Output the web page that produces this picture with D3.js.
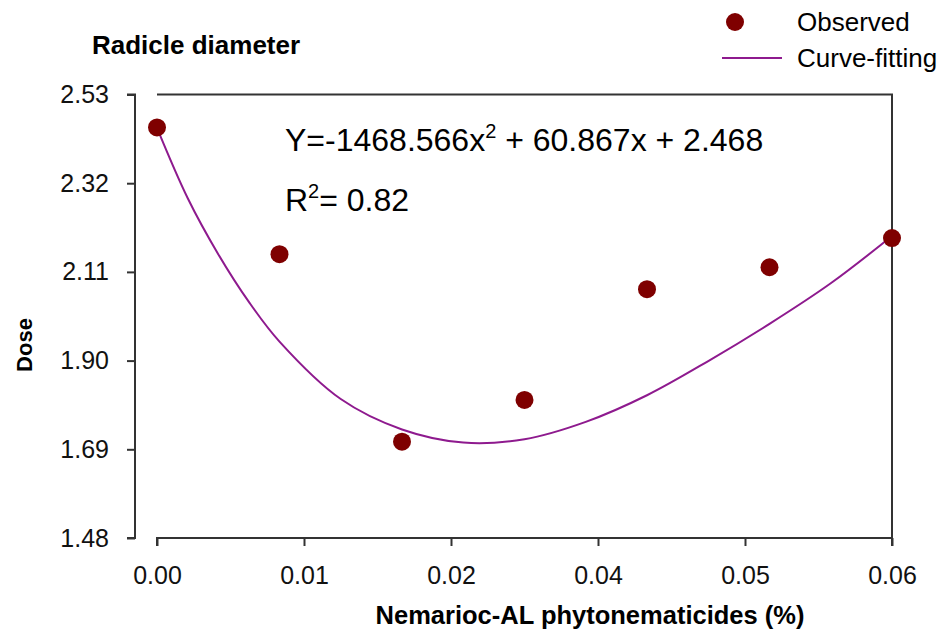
<!DOCTYPE html>
<html>
<head>
<meta charset="utf-8">
<script src="https://cdn.jsdelivr.net/npm/d3@7"></script>
<style>
  body { margin: 0; background: #fff; }
  svg { display: block; font-family: "Liberation Sans", Arial, sans-serif; }
</style>
</head>
<body>
<div id="chart"></div>
<script>
// observed radicle diameter per dose
const doses = [0, 0.01, 0.02, 0.03, 0.04, 0.05, 0.06];
const observed = [2.452, 2.152, 1.708, 1.807, 2.069, 2.121, 2.190];

// fitted curve, sampled along the dose range
const fitX = [0, 0.0025, 0.005, 0.0075, 0.01, 0.015, 0.02, 0.025, 0.03, 0.035, 0.04, 0.045, 0.05, 0.055, 0.06];
const fitY = [2.451, 2.285, 2.152, 2.039, 1.945, 1.809, 1.737, 1.706, 1.714, 1.755, 1.818, 1.899, 1.987, 2.083, 2.195];

const xTicks = [0, 0.012, 0.024, 0.036, 0.048, 0.06];
const xTickLabels = ["0.00", "0.01", "0.02", "0.04", "0.05", "0.06"];
const yTicks = [1.48, 1.69, 1.90, 2.11, 2.32, 2.53];

const width = 944, height = 634;
const plot = { left: 157, right: 892, top: 94.5, bottom: 538 };
const axisColor = "#333";
const dotColor = "#7f0000";
const lineColor = "#8e1a8e";

const svg = d3.select("#chart").append("svg")
  .attr("width", width)
  .attr("height", height);

const x = d3.scaleLinear().domain([0, 0.06]).range([plot.left, plot.right]);
const y = d3.scaleLinear().domain([1.48, 2.53]).range([plot.bottom, plot.top]);

// frame: top and right sides
svg.append("path")
  .attr("d", `M${plot.left},${plot.top}H${plot.right}V${plot.bottom}`)
  .attr("fill", "none")
  .attr("stroke", axisColor)
  .attr("stroke-width", 2);

// y axis, set off to the left
const yAxis = svg.append("g")
  .attr("transform", "translate(135,0)")
  .call(d3.axisLeft(y).tickValues(yTicks).tickFormat(d3.format(".2f")).tickSize(8).tickPadding(18));

// x axis along the bottom
const xAxis = svg.append("g")
  .attr("transform", `translate(0,${plot.bottom})`)
  .call(d3.axisBottom(x).tickValues(xTicks).tickFormat((d, i) => xTickLabels[i]).tickSize(8).tickPadding(20));

[yAxis, xAxis].forEach(g => {
  g.selectAll(".domain").attr("stroke", axisColor).attr("stroke-width", 2);
  g.selectAll(".tick line").attr("stroke", axisColor).attr("stroke-width", 2);
  g.selectAll(".tick text")
    .attr("fill", "#111")
    .style("font-size", "25px")
    .style("font-family", "Liberation Sans, Arial, sans-serif");
});
// square off the axis ends
yAxis.select(".domain").attr("d", `M-8,${y(2.53)}H0V${y(1.48)}H-8`);
xAxis.select(".domain").attr("d", `M${plot.left},8V0H${plot.right}V8`);

// fitted curve
const line = d3.line()
  .x((d, i) => x(fitX[i]))
  .y(d => y(d))
  .curve(d3.curveCatmullRom.alpha(0.5));

svg.append("path")
  .datum(fitY)
  .attr("d", line)
  .attr("fill", "none")
  .attr("stroke", lineColor)
  .attr("stroke-width", 2);

// observed points
svg.selectAll(".obs")
  .data(observed)
  .join("circle")
  .attr("class", "obs")
  .attr("cx", (d, i) => x(doses[i]))
  .attr("cy", d => y(d))
  .attr("r", 9)
  .attr("fill", dotColor);

// equation and fit quality
const eq = svg.append("text")
  .attr("x", 285)
  .attr("y", 151)
  .style("font-size", "32px")
  .attr("fill", "#000");
eq.append("tspan").text("Y=-1468.566x");
eq.append("tspan").attr("dy", -13).style("font-size", "20px").text("2");
eq.append("tspan").attr("dy", 13).text(" + 60.867x + 2.468");

const r2 = svg.append("text")
  .attr("x", 285)
  .attr("y", 211)
  .style("font-size", "32px")
  .attr("fill", "#000");
r2.append("tspan").text("R");
r2.append("tspan").attr("dy", -13).style("font-size", "20px").text("2");
r2.append("tspan").attr("dy", 13).text("= 0.82");

// titles
svg.append("text")
  .attr("x", 92)
  .attr("y", 54)
  .style("font-size", "26px")
  .style("font-weight", "bold")
  .text("Radicle diameter");

svg.append("text")
  .attr("transform", "translate(32,345) rotate(-90)")
  .attr("text-anchor", "middle")
  .style("font-size", "22px")
  .style("font-weight", "bold")
  .text("Dose");

svg.append("text")
  .attr("x", 590)
  .attr("y", 624)
  .attr("text-anchor", "middle")
  .style("font-size", "25.5px")
  .style("font-weight", "bold")
  .text("Nemarioc-AL phytonematicides (%)");

// legend
const legend = svg.append("g");
legend.append("circle")
  .attr("cx", 735)
  .attr("cy", 22)
  .attr("r", 9)
  .attr("fill", dotColor);
legend.append("text")
  .attr("x", 797)
  .attr("y", 31)
  .style("font-size", "26px")
  .text("Observed");
legend.append("line")
  .attr("x1", 722)
  .attr("x2", 782)
  .attr("y1", 58)
  .attr("y2", 58)
  .attr("stroke", lineColor)
  .attr("stroke-width", 2);
legend.append("text")
  .attr("x", 797)
  .attr("y", 67)
  .style("font-size", "26px")
  .text("Curve-fitting");
</script>
</body>
</html>
